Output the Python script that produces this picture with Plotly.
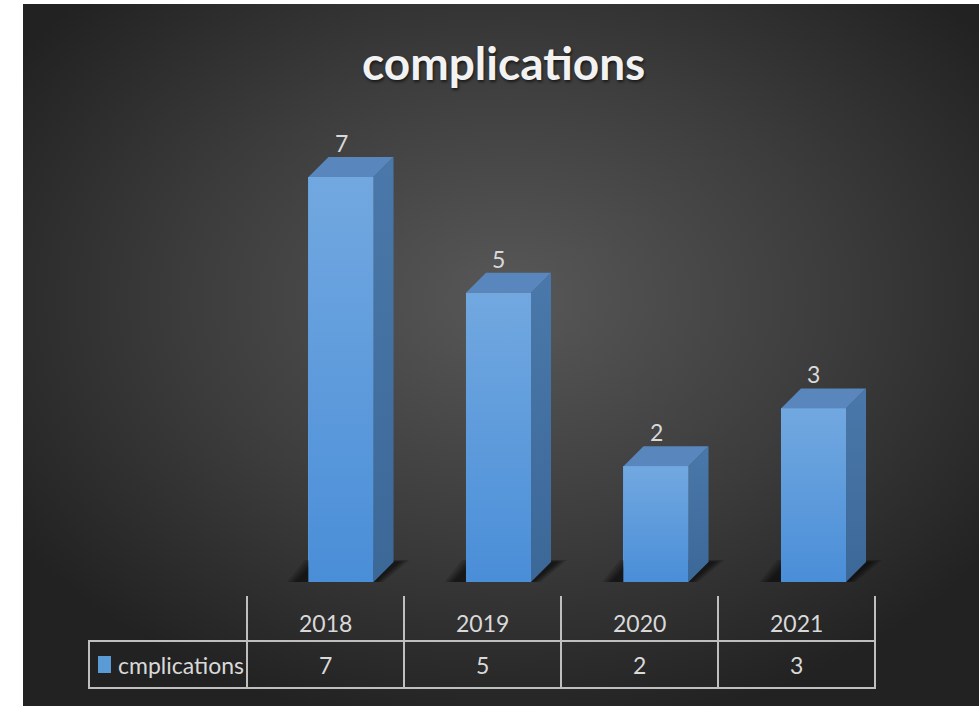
import base64
import plotly.graph_objects as go

# Complications per year
years = ["2018", "2019", "2020", "2021"]
counts = [7, 5, 2, 3]
series_name = "cmplications"
chart_title = "complications"

W, H = 979, 706
FONT = "Lato, Open Sans, sans-serif"
TXT = "#d9d9d9"
LINE = "#bfbfbf"

FRONT = "#5f9de0"
TOP = "#5886bd"
SIDE = "#43709f"

BAR_W = 0.413   # front face width (x units)
DX = 0.127      # depth offset, x units
DY = 0.346      # depth offset, y units


def px(x):
    return x / W


def py(y):
    return 1 - y / H


fig = go.Figure()

# soft floor shadows: the base footprint pushed to the left, layered for a blur
for i, v in enumerate(counts):
    xl, xr = i - BAR_W / 2, i + BAR_W / 2
    for k in (0.07, 0.05, 0.035, 0.02, 0.008):
        ky = k * 0.5
        fig.add_trace(go.Scatter(
            x=[xl - 0.08 - k, xr + k * 0.5, xr + DX + 0.03 + k, xl + DX - 0.08 - k, xl - 0.08 - k],
            y=[-0.02 - ky, -0.02 - ky, DY + ky, DY + ky, -0.02 - ky],
            fill="toself", mode="lines", line=dict(width=0),
            fillcolor="rgba(12,12,12,0.2)", hoverinfo="skip", showlegend=False,
        ))

# front faces
fig.add_trace(go.Bar(
    x=list(range(len(years))), y=counts, width=BAR_W,
    marker=dict(color=FRONT, line=dict(width=0)),
    showlegend=False, hoverinfo="skip",
))

# side and top faces, derived from each value
for i, v in enumerate(counts):
    xl, xr = i - BAR_W / 2, i + BAR_W / 2
    fig.add_trace(go.Scatter(
        x=[xr, xr + DX, xr + DX, xr, xr], y=[0, DY, v + DY, v, 0],
        fill="toself", mode="lines", line=dict(width=0),
        fillgradient=dict(type="vertical", colorscale=[[0, "#3b6897"], [1, "#4a78aa"]]),
        fillcolor=SIDE, hoverinfo="skip", showlegend=False,
    ))
    fig.add_trace(go.Scatter(
        x=[xl, xl + DX, xr + DX, xr, xl], y=[v, v + DY, v + DY, v, v],
        fill="toself", mode="lines", line=dict(width=0),
        fillcolor=TOP, hoverinfo="skip", showlegend=False,
    ))
    # front face shading: lighter top, deeper bottom
    fig.add_trace(go.Scatter(
        x=[xl, xr, xr, xl, xl], y=[0, 0, v, v, 0],
        fill="toself", mode="lines", line=dict(width=0),
        fillgradient=dict(type="vertical", colorscale=[[0, "#4a8ed8"], [1, "#72a8e0"]]),
        fillcolor=FRONT, hoverinfo="skip", showlegend=False,
    ))

annotations = []
shapes = []

# value labels above the bars
for i, v in enumerate(counts):
    annotations.append(dict(
        x=i, y=v + DY, xref="x", yref="y", text=str(v), showarrow=False,
        yanchor="bottom", yshift=-2, font=dict(family=FONT, size=23, color=TXT),
    ))

# title
annotations.append(dict(
    x=px(503), y=py(63), xref="paper", yref="paper", text=f"<b>{chart_title}</b>",
    showarrow=False, xanchor="center", yanchor="middle",
    font=dict(family=FONT, size=46, color="#f2f2f2", shadow="1px 2px 3px rgba(0,0,0,0.6)"),
))

# data table below the plot
col_left, col_w = 247, 157
legend_left = 89
top_y, mid_y, bot_y = 596, 641, 688
n = len(years)
right = col_left + n * col_w

line = dict(color=LINE, width=2)
for j in range(n + 1):
    xv = col_left + j * col_w
    shapes.append(dict(type="line", xref="paper", yref="paper",
                       x0=px(xv), x1=px(xv), y0=py(top_y), y1=py(bot_y), line=line))
shapes.append(dict(type="line", xref="paper", yref="paper",
                   x0=px(legend_left), x1=px(legend_left), y0=py(mid_y), y1=py(bot_y), line=line))
for yv in (mid_y, bot_y):
    shapes.append(dict(type="line", xref="paper", yref="paper",
                       x0=px(legend_left - 1), x1=px(right + 1), y0=py(yv), y1=py(yv), line=line))

for j, (yr, v) in enumerate(zip(years, counts)):
    cx = col_left + col_w * (j + 0.5)
    annotations.append(dict(x=px(cx), y=py(623), xref="paper", yref="paper", text=yr,
                            showarrow=False, xanchor="center", yanchor="middle",
                            font=dict(family=FONT, size=23, color=TXT)))
    annotations.append(dict(x=px(cx), y=py(665), xref="paper", yref="paper", text=str(v),
                            showarrow=False, xanchor="center", yanchor="middle",
                            font=dict(family=FONT, size=23, color=TXT)))

# legend key and series name
shapes.append(dict(type="rect", xref="paper", yref="paper",
                   x0=px(98), x1=px(111), y0=py(656), y1=py(673),
                   fillcolor="#5b9bd5", line=dict(width=0)))
annotations.append(dict(x=px(116), y=py(665), xref="paper", yref="paper", text=series_name,
                        showarrow=False, xanchor="left", yanchor="middle",
                        font=dict(family=FONT, size=23, color=TXT)))

# radial gradient backdrop
svg = (
    '<svg xmlns="http://www.w3.org/2000/svg" width="956" height="702" viewBox="0 0 956 702">'
    '<defs><radialGradient id="g" cx="0.51" cy="0.42" r="0.62">'
    '<stop offset="0" stop-color="#585858"/>'
    '<stop offset="0.55" stop-color="#3c3c3c"/>'
    '<stop offset="1" stop-color="#222222"/>'
    '</radialGradient></defs>'
    '<rect width="956" height="702" fill="url(#g)"/></svg>'
)
bg_src = "data:image/svg+xml;base64," + base64.b64encode(svg.encode()).decode()

fig.update_layout(
    width=W, height=H,
    margin=dict(l=0, r=0, t=0, b=0),
    paper_bgcolor="white", plot_bgcolor="rgba(0,0,0,0)",
    xaxis=dict(domain=[px(262.25), px(892.25)], range=[-0.5, 3.5],
               visible=False, fixedrange=True),
    yaxis=dict(domain=[py(582), py(119.1)], range=[0, 8],
               visible=False, fixedrange=True),
    images=[dict(source=bg_src, xref="paper", yref="paper", x=px(23), y=py(4),
                 sizex=px(979 - 23), sizey=py(4), xanchor="left", yanchor="top",
                 sizing="stretch", layer="below")],
    shapes=shapes, annotations=annotations,
    bargap=0,
)

fig.write_html("out.html", config={"displayModeBar": False})
